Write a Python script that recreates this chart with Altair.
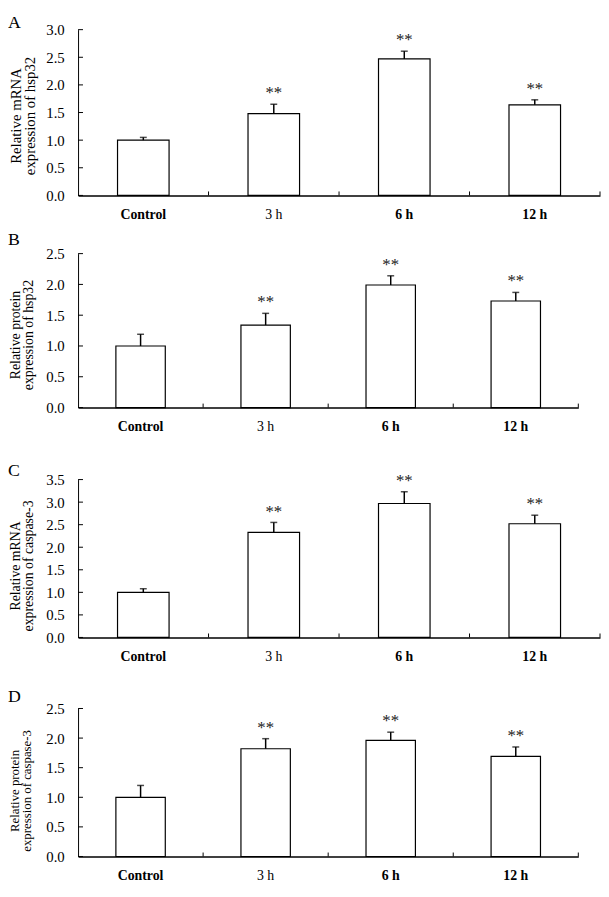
import altair as alt
import pandas as pd

FONT = "Liberation Serif"

categories = ["Control", "3 h", "6 h", "12 h"]
significance = ["", "**", "**", "**"]

a_values = [1.00, 1.48, 2.47, 1.64]
a_errors = [0.05, 0.17, 0.14, 0.09]
b_values = [1.00, 1.34, 1.99, 1.73]
b_errors = [0.19, 0.19, 0.15, 0.14]
c_values = [1.00, 2.33, 2.97, 2.52]
c_errors = [0.08, 0.22, 0.26, 0.19]
d_values = [1.00, 1.82, 1.96, 1.69]
d_errors = [0.20, 0.17, 0.14, 0.16]

a_ticks = [0.0, 0.5, 1.0, 1.5, 2.0, 2.5, 3.0]
b_ticks = [0.0, 0.5, 1.0, 1.5, 2.0, 2.5]
c_ticks = [0.0, 0.5, 1.0, 1.5, 2.0, 2.5, 3.0, 3.5]
d_ticks = [0.0, 0.5, 1.0, 1.5, 2.0, 2.5]

panel_letters = ["A", "B", "C", "D"]
y_titles = [
    ["Relative mRNA", "expression of hsp32"],
    ["Relative protein", "expression of hsp32"],
    ["Relative mRNA", "expression of caspase-3"],
    ["Relative protein", "expression of caspase-3"],
]


def panel(letter, values, errors, ticks, title, width, height,
          top_space, letter_y, bottom_space, title_size, title_shift):
    df = pd.DataFrame({"cat": categories, "value": values,
                       "err": errors, "sig": significance})
    df["top"] = df["value"] + df["err"]
    tick_df = pd.DataFrame({"t": ticks})
    letter_df = pd.DataFrame({"letter": [letter]})

    xscale = alt.Scale(domain=categories, paddingInner=0, paddingOuter=0)
    yscale = alt.Scale(domain=[ticks[0], ticks[-1]], nice=False)

    xaxis = alt.Axis(
        title=None, labelAngle=0, ticks=False, tickSize=0,
        domainColor="black", domainWidth=1.5,
        labelFont=FONT, labelFontSize=14, labelColor="black",
        labelPadding=12, labelBaseline="top", labelOverlap=False,
        labelFontWeight={"condition": {"test": "datum.value == '3 h'", "value": "normal"},
                         "value": "bold"},
    )
    yaxis = alt.Axis(
        title=title, titleFont=FONT, titleFontSize=title_size,
        titleFontWeight="normal", titleColor="black",
        titleX=-70, titleY=height / 2 + title_shift, titleBaseline="top",
        titleAngle=-90, titleAlign="center", titleLineHeight=title_size - 1,
        values=ticks, tickCount=len(ticks), format=".1f", grid=False,
        ticks=False, tickSize=0,
        domainColor="black", domainWidth=1, labelOverlap=False,
        labelFont=FONT, labelFontSize=15, labelColor="black", labelPadding=14,
    )

    x = alt.X("cat:N", scale=xscale, sort=categories, axis=xaxis)
    y = alt.Y("value:Q", scale=yscale, axis=yaxis)

    bars = alt.Chart(df).mark_bar(
        fill="white", stroke="black", strokeWidth=1.2,
        width=alt.RelativeBandSize(0.395),
    ).encode(x=x, y=y)

    err_line = alt.Chart(df).mark_rule(color="black", strokeWidth=1.5).encode(
        x=x, y=y, y2="top:Q")

    caps = alt.Chart(df).mark_tick(color="black", size=7, thickness=1.5).encode(
        x=x, y=alt.Y("top:Q", scale=yscale, axis=yaxis))

    stars = alt.Chart(df).mark_text(
        font=FONT, fontSize=17, color="#222", baseline="alphabetic", dy=-6,
    ).encode(x=x, y=alt.Y("top:Q", scale=yscale, axis=yaxis), text="sig:N")

    yticks = alt.Chart(tick_df).mark_rule(color="black", strokeWidth=1).encode(
        y=alt.Y("t:Q", scale=yscale, axis=yaxis), x=alt.value(0), x2=alt.value(5))

    xticks = alt.Chart(df).mark_rule(color="black", strokeWidth=1).encode(
        x=alt.X("cat:N", scale=xscale, sort=categories, bandPosition=1, axis=xaxis),
        y=alt.value(height), y2=alt.value(height - 4))

    letter_mark = alt.Chart(letter_df).mark_text(
        font=FONT, fontSize=18, color="black", align="left", baseline="top",
    ).encode(text="letter:N", x=alt.value(-71), y=alt.value(letter_y))

    spacer = alt.Chart(letter_df).mark_rule(strokeOpacity=0, color="white").encode(
        x=alt.value(0), y=alt.value(-top_space), y2=alt.value(height + bottom_space))

    return alt.layer(bars, spacer, err_line, caps, stars, yticks, xticks,
                     letter_mark).properties(width=width, height=height)


pA = panel(panel_letters[0], a_values, a_errors, a_ticks, y_titles[0],
           529, 168, 16, -16, 30, 15, 3)
pB = panel(panel_letters[1], b_values, b_errors, b_ticks, y_titles[1],
           507, 156, 29, -23, 30, 14, 4)
pC = panel(panel_letters[2], c_values, c_errors, c_ticks, y_titles[2],
           529, 160, 43, -18, 30, 14, 7)
pD = panel(panel_letters[3], d_values, d_errors, d_ticks, y_titles[3],
           507, 150, 42, -21, 26, 13, 8)

chart = alt.vconcat(pA, pB, pC, pD, spacing=0).resolve_scale(
    x="independent", y="independent"
).properties(padding=0, background="white").configure_view(stroke=None)

chart.save("out.html", embed_options={"renderer": "svg", "actions": False})
